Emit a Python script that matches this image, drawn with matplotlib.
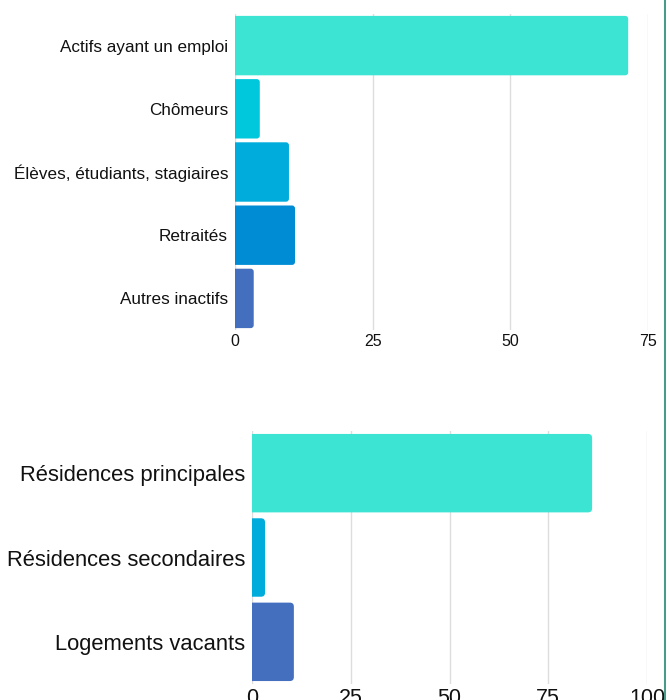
import matplotlib
matplotlib.use("Agg")
import matplotlib.pyplot as plt
from matplotlib.patches import FancyBboxPatch
from matplotlib.lines import Line2D

plt.rcParams['font.family'] = ['Liberation Sans', 'DejaVu Sans']

# Data
pop_labels = ["Actifs ayant un emploi", "Chômeurs", "Élèves, étudiants, stagiaires",
              "Retraités", "Autres inactifs"]
pop_values = [71.4, 4.5, 9.8, 10.9, 3.4]
pop_colors = ["#3ce4d4", "#00c8dc", "#00acdc", "#008cd4", "#446fbe"]
pop_ticks = [0, 25, 50, 75]

log_labels = ["Résidences principales", "Résidences secondaires", "Logements vacants"]
log_values = [86.1, 3.3, 10.6]
log_colors = ["#3ce4d4", "#00acdc", "#446fbe"]
log_ticks = [0, 25, 50, 75, 100]

fig = plt.figure(figsize=(6.66, 7.0), dpi=100)


def draw(ax, labels, values, colors, ticks, fs_label, fs_tick, height, radius_px):
    n = len(labels)
    ys = list(range(n))
    bars = ax.barh(ys, values, height=height, color=colors)
    ax.set_xlim(ticks[0], ticks[-1])
    ax.set_ylim(n - 0.5, -0.5)
    fig.canvas.draw()
    bb = ax.get_window_extent()
    xpp = (ticks[-1] - ticks[0]) / bb.width
    ypp = n / bb.height
    r = radius_px * xpp
    for b, c in zip(bars, colors):
        x0, y0 = b.get_x(), b.get_y()
        w, h = b.get_width(), b.get_height()
        b.set_visible(False)
        p = FancyBboxPatch((x0 - r, y0), w + r, h,
                           boxstyle=f"round,pad=0,rounding_size={r}",
                           mutation_aspect=ypp / xpp,
                           facecolor=c, edgecolor='none', zorder=3)
        ax.add_patch(p)
    ax.set_yticks(ys)
    ax.set_yticklabels(labels, fontsize=fs_label, color="#111111")
    ax.set_xticks(ticks)
    ax.set_xticklabels([str(t) for t in ticks], fontsize=fs_tick, color="#111111")
    ax.tick_params(axis='both', length=0)
    ax.tick_params(axis='y', pad=5)
    ax.tick_params(axis='x', pad=3)
    ax.grid(axis='x', color="#dddddd", linewidth=1, zorder=0)
    ax.set_axisbelow(True)
    for s in ax.spines.values():
        s.set_visible(False)


ax1 = fig.add_axes([235 / 666, 1 - 330 / 700, 413 / 666, 316 / 700])
draw(ax1, pop_labels, pop_values, pop_colors, pop_ticks, 12.3, 11.5, 0.94, 3)

ax2 = fig.add_axes([252 / 666, 1 - 684 / 700, 395 / 666, 253 / 700])
draw(ax2, log_labels, log_values, log_colors, log_ticks, 15.8, 15.5, 0.93, 4)

fig.add_artist(Line2D([664.5 / 666, 664.5 / 666], [0, 1], transform=fig.transFigure,
                      color="#4a9a88", linewidth=1.5))

fig.savefig("out.png", dpi=100)
